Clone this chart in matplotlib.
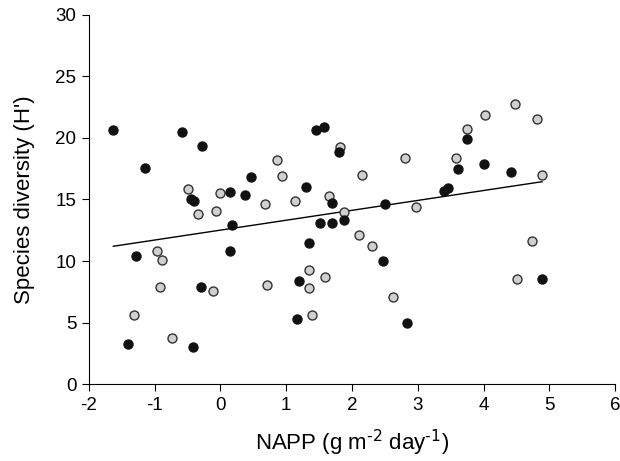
import numpy as np
import matplotlib
matplotlib.use("Agg")
import matplotlib.pyplot as plt

plt.rcParams['font.family'] = ['Liberation Sans', 'DejaVu Sans']
plt.rcParams['axes.unicode_minus'] = False

# Black (filled) sites
black_x = [-1.63, -1.15, -0.58, -0.28, 0.47, 1.30, 1.45, 1.58, 1.80, 0.14,
           0.37, -0.45, -0.40, 1.70, 0.18, 1.51, 1.69, 1.34, -1.28, 0.14,
           1.19, -0.30, 1.17, -1.40, -0.42, 3.61, 3.75, 4.01, 4.42, 3.40,
           3.46, 2.50, 1.88, 2.47, 2.83, 4.89]
black_y = [20.65, 17.6, 20.5, 19.35, 16.8, 16.0, 20.65, 20.9, 18.9, 15.6,
           15.4, 15.0, 14.9, 14.7, 12.9, 13.05, 13.05, 11.5, 10.4, 10.85,
           8.4, 7.85, 5.3, 3.25, 3.0, 17.45, 19.9, 17.9, 17.2, 15.7,
           15.9, 14.6, 13.3, 10.0, 4.95, 8.5]

# Grey (open) sites
gray_x = [-0.50, 0.86, 0.94, 1.81, -0.01, 1.65, -0.34, -0.07, 0.68, 1.13,
          -0.97, -0.89, 1.34, 1.59, 1.34, -0.92, -0.12, 0.71, -1.32, 1.39,
          -0.74, 2.15, 2.80, 3.58, 3.75, 4.02, 4.48, 4.82, 4.89, 1.88,
          2.98, 2.10, 2.31, 2.63, 4.74, 4.51]
gray_y = [15.85, 18.2, 16.9, 19.3, 15.5, 15.3, 13.85, 14.1, 14.65, 14.85,
          10.8, 10.1, 9.25, 8.7, 7.8, 7.85, 7.55, 8.05, 5.6, 5.65,
          3.75, 17.0, 18.35, 18.4, 20.7, 21.85, 22.8, 21.55, 17.0, 14.0,
          14.35, 12.15, 11.25, 7.1, 11.65, 8.5]

# Regression line
fit_intercept = 12.51
fit_slope = 0.805

fig = plt.figure(figsize=(6.2, 4.61), dpi=100)
ax = fig.add_axes([0.1435, 0.167, 0.8485, 0.8005])

all_x = np.array(black_x + gray_x)
line_x = np.array([all_x.min(), all_x.max()])
ax.plot(line_x, fit_intercept + fit_slope * line_x, color='black', lw=1.0, zorder=2)

ax.scatter(gray_x, gray_y, s=42, facecolor='#d0d0d0', edgecolor='#333333',
           linewidth=1.0, zorder=3)
ax.scatter(black_x, black_y, s=42, facecolor='#111111', edgecolor='#111111',
           linewidth=1.0, zorder=4)

ax.set_xlim(-2, 6)
ax.set_ylim(0, 30)
ax.set_xticks(range(-2, 7))
ax.set_yticks(range(0, 31, 5))
ax.spines['top'].set_visible(False)
ax.spines['right'].set_visible(False)
ax.tick_params(direction='out', length=5, labelsize=13.5, pad=4)
ax.set_xlabel(r'NAPP (g m$^{\text{-2}}$ day$^{\text{-1}}$)', fontsize=16, labelpad=10)
ax.set_ylabel("Species diversity (H')", fontsize=16, labelpad=15)

fig.savefig('out.png', dpi=100)
